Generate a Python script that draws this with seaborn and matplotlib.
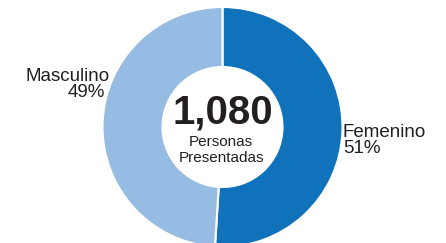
import matplotlib
matplotlib.use("Agg")
import matplotlib.pyplot as plt
import seaborn as sns

categories = ["Femenino", "Masculino"]
values = [51, 49]
pct_labels = ["51%", "49%"]
total_label = "1,080"
center_caption = "Personas\nPresentadas"
colors = ["#1172BC", "#97BCE3"]

sns.set_theme(style="white")
plt.rcParams['font.family'] = ['Liberation Sans', 'DejaVu Sans']

W, H, DPI = 446, 243, 100
R_PX = 120.0
CX, CY = 222.5, 127.0  # pixel center (from top)

fig = plt.figure(figsize=(W / DPI, H / DPI), dpi=DPI)
ax = fig.add_axes([0, 0, 1, 1])

ax.pie(values, colors=colors, startangle=90, counterclock=False,
       radius=1.0, wedgeprops=dict(width=0.5, edgecolor="white", linewidth=1.5))

ax.set_xlim(-CX / R_PX, (W - CX) / R_PX)
ax.set_ylim(-(H - CY) / R_PX, CY / R_PX)
ax.set_aspect('auto')
ax.axis('off')

def d(px, py):
    return (px - CX) / R_PX, (CY - py) / R_PX

tc = "#231F20"
x, y = d(222.5, 123)
ax.text(x, y, total_label, ha="center", va="baseline", fontsize=29,
        fontweight="bold", color=tc)
cap1, cap2 = center_caption.split("\n")
x, y = d(221, 146)
ax.text(x, y, cap1, ha="center", va="baseline", fontsize=11, color=tc)
x, y = d(221, 162)
ax.text(x, y, cap2, ha="center", va="baseline", fontsize=11, color=tc)

# Masculino label
x, y = d(110, 81)
ax.text(x, y, categories[1], ha="right", va="baseline", fontsize=13.5, color=tc)
x, y = d(105, 97)
ax.text(x, y, pct_labels[1], ha="right", va="baseline", fontsize=13.5, color=tc)
# Femenino label
x, y = d(343, 137)
ax.text(x, y, categories[0], ha="left", va="baseline", fontsize=13.5, color=tc)
x, y = d(343, 153)
ax.text(x, y, pct_labels[0], ha="left", va="baseline", fontsize=13.5, color=tc)

fig.savefig("out.png", dpi=DPI)
